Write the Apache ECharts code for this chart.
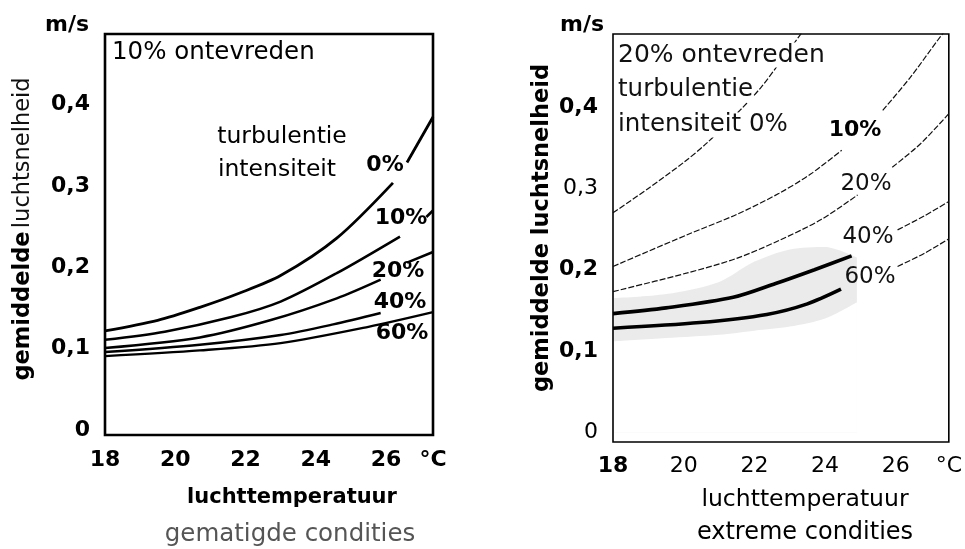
<!DOCTYPE html>
<html>
<head>
<meta charset="utf-8">
<script src="https://cdn.jsdelivr.net/npm/echarts@6/dist/echarts.min.js"></script>
<style>
html,body{margin:0;padding:0;background:#fff;}
#c{width:965px;height:549px;}
</style>
</head>
<body>
<div id="c"></div>
<script>
// ---------- data: left panel (gematigde condities, 10% ontevreden) ----------
const xTicks = [18, 20, 22, 24, 26];
const yTicks = [0, 0.1, 0.2, 0.3, 0.4];
const leftT0  = [18, 19.5, 20.7, 21.8, 23.0, 24.6, 26.2, 26.4, 26.6, 27.34];
const leftV0  = [0.122, 0.135, 0.151, 0.168, 0.190, 0.236, 0.304, null, 0.329, 0.385];
const leftT10 = [18, 19.7, 21.6, 23.0, 24.6, 26.4, 26.8, 27.15, 27.34];
const leftV10 = [0.111, 0.121, 0.139, 0.158, 0.193, 0.238, null, 0.262, 0.270];
const leftT20 = [18, 20.7, 22.7, 24.6, 25.85, 26.2, 26.6, 27.34];
const leftV20 = [0.101, 0.114, 0.135, 0.162, 0.185, null, 0.206, 0.219];
const leftT40 = [18, 20.7, 23.0, 24.5, 25.85];
const leftV40 = [0.096, 0.105, 0.117, 0.130, 0.144];
const leftT60 = [18, 20.7, 23.0, 25.5, 27.34];
const leftV60 = [0.091, 0.098, 0.107, 0.127, 0.145];

// ---------- data: right panel (extreme condities, 20% ontevreden) ----------
const rightT0  = [18, 19.0, 20.0, 20.66, 21.59, 22.2, 22.72, 23.35];
const rightV0  = [0.270, 0.300, 0.332, 0.356, 0.396, 0.425, 0.455, 0.492];
const rightT10 = [18, 20.1, 21.5, 22.7, 23.6, 24.47, 24.9, 25.63, 26.4, 27.18, 27.5];
const rightV10 = [0.204, 0.243, 0.268, 0.294, 0.318, 0.347, null, 0.396, 0.436, 0.482, 0.500];
const rightT20 = [18, 20.1, 21.5, 22.7, 23.9, 24.92, 25.4, 25.9, 26.7, 27.5];
const rightV20 = [0.173, 0.196, 0.214, 0.236, 0.262, 0.292, null, 0.326, 0.355, 0.392];
const rightT40solid = [18, 19.5, 21.4, 22.6, 23.7, 24.75];
const rightV40solid = [0.146, 0.153, 0.166, 0.183, 0.200, 0.217];
const rightT40dash  = [26.05, 26.8, 27.5];
const rightV40dash  = [0.249, 0.266, 0.284];
const rightT60solid = [18, 20.46, 22.35, 23.5, 24.45];
const rightV60solid = [0.128, 0.135, 0.145, 0.158, 0.176];
const rightT60dash  = [26.05, 26.8, 27.5];
const rightV60dash  = [0.204, 0.220, 0.238];
// stippled (grey) measurement cloud around the thick curves
const bandT    = [18.03, 19.5, 21, 22, 23, 24, 24.9];
const bandLow  = [0.112, 0.116, 0.120, 0.125, 0.130, 0.140, 0.160];
const bandHigh = [0.165, 0.170, 0.185, 0.210, 0.225, 0.228, 0.215];

const FONT = 'DejaVu Sans';
const pairs = (t, v) => t.map((x, i) => [x, v[i]]);

function yFmt(val) {
  if (val < -1e-9 || val > 0.4 + 1e-9) return '';
  const r = Math.round(val * 10);
  if (Math.abs(val * 10 - r) > 1e-6) return '';
  return r === 0 ? '0' : ('0,' + r);
}
function xFmtFactory(maxV) {
  return function (val) {
    if (Math.abs(val - maxV) < 0.02) return '°C';
    if (xTicks.indexOf(Math.round(val)) >= 0 && Math.abs(val - Math.round(val)) < 1e-6) return String(Math.round(val));
    return '';
  };
}

const leftMax = 27.34, rightMax = 27.5;

function solid(name, t, v, xi, w) {
  return { name, type: 'line', xAxisIndex: xi, yAxisIndex: xi, data: pairs(t, v),
    symbol: 'none', smooth: 0.3, connectNulls: false, z: 5,
    lineStyle: { color: '#000', width: w } };
}
function dashed(name, t, v) {
  return { name, type: 'line', xAxisIndex: 1, yAxisIndex: 1, data: pairs(t, v),
    symbol: 'none', smooth: 0.3, connectNulls: false, z: 4,
    lineStyle: { color: '#111', width: 1.2, type: [6, 2] } };
}
function txt(x, y, text, size, opts) {
  opts = opts || {};
  return { type: 'text', x: x, y: y, z: 50, rotation: opts.rotation || 0,
    style: Object.assign({ text: text, fontFamily: FONT, fontSize: size, fontWeight: opts.bold ? 'bold' : 'normal',
      fill: opts.fill || '#000', align: opts.align || 'center', verticalAlign: 'middle' }, opts.extra || {}) };
}

const chart = echarts.init(document.getElementById('c'));
const option = {
  backgroundColor: '#fff',
  animation: false,
  textStyle: { fontFamily: FONT },
  grid: [
    { left: 105, right: 965 - 433, top: 34, bottom: 549 - 435, show: true, borderColor: '#000', borderWidth: 2.6, containLabel: false },
    { left: 613, right: 965 - 949, top: 34, bottom: 549 - 442, show: true, borderColor: '#000', borderWidth: 1.6, containLabel: false }
  ],
  xAxis: [
    { type: 'value', gridIndex: 0, min: 18, max: leftMax, interval: 2,
      axisLine: { show: false }, axisTick: { show: false }, splitLine: { show: false },
      axisLabel: { showMinLabel: true, showMaxLabel: true, margin: 14, color: '#000', fontFamily: FONT,
        fontSize: 22, fontWeight: 'bold', formatter: xFmtFactory(leftMax) } },
    { type: 'value', gridIndex: 1, min: 18, max: rightMax, interval: 2,
      axisLine: { show: false }, axisTick: { show: false }, splitLine: { show: false },
      axisLabel: { showMinLabel: true, showMaxLabel: true, margin: 13, color: '#000', fontFamily: FONT,
        fontSize: 22,
        formatter: function (val) {
          const s = xFmtFactory(rightMax)(val);
          if (s === '18') return '{b|18}';
          return s;
        },
        rich: { b: { fontWeight: 'bold', fontSize: 22, fontFamily: FONT, color: '#000' } } } }
  ],
  yAxis: [
    { type: 'value', gridIndex: 0, min: -0.006, max: 0.487,
      axisLine: { show: false }, axisTick: { show: false }, splitLine: { show: false },
      axisLabel: { showMinLabel: true, showMaxLabel: true, margin: 15, color: '#000', fontFamily: FONT,
        fontSize: 22, fontWeight: 'bold', formatter: yFmt } },
    { type: 'value', gridIndex: 1, min: -0.012, max: 0.49,
      axisLine: { show: false }, axisTick: { show: false }, splitLine: { show: false },
      axisLabel: { showMinLabel: true, showMaxLabel: true, margin: 15, color: '#000', fontFamily: FONT,
        fontSize: 22,
        formatter: function (val) {
          const s = yFmt(val);
          if (s === '0,4' || s === '0,2' || s === '0,1') return '{b|' + s + '}';
          return s;
        },
        rich: { b: { fontWeight: 'bold', fontSize: 22, fontFamily: FONT, color: '#000' } } } }
  ],
  series: [
    solid('L0', leftT0, leftV0, 0, 2.8),
    solid('L10', leftT10, leftV10, 0, 2.6),
    solid('L20', leftT20, leftV20, 0, 2.5),
    solid('L40', leftT40, leftV40, 0, 2.4),
    solid('L60', leftT60, leftV60, 0, 2.4),
    { name: 'bandHigh', type: 'line', xAxisIndex: 1, yAxisIndex: 1, symbol: 'none', smooth: 0.3,
      data: pairs(bandT, bandHigh), lineStyle: { width: 0, opacity: 0 },
      areaStyle: { color: 'rgba(0,0,0,0.08)', opacity: 1 }, z: 1 },
    { name: 'bandLow', type: 'line', xAxisIndex: 1, yAxisIndex: 1, symbol: 'none', smooth: 0.3,
      data: pairs(bandT, bandLow), lineStyle: { width: 0, opacity: 0 },
      areaStyle: { color: '#ffffff', opacity: 1 }, z: 2 },
    dashed('R0', rightT0, rightV0),
    dashed('R10', rightT10, rightV10),
    dashed('R20', rightT20, rightV20),
    solid('R40', rightT40solid, rightV40solid, 1, 3.6),
    dashed('R40d', rightT40dash, rightV40dash),
    solid('R60', rightT60solid, rightV60solid, 1, 3.6),
    dashed('R60d', rightT60dash, rightV60dash)
  ],
  graphic: [
    // left panel texts
    txt(67, 25, 'm/s', 22, { bold: true }),
    { type: 'text', x: 23, y: 229, rotation: Math.PI / 2, z: 50, style: { text: '{b|gemiddelde} {n|luchtsnelheid}', align: 'center', verticalAlign: 'middle',
        rich: { b: { fontFamily: FONT, fontSize: 22.5, fontWeight: 'bold', fill: '#000' }, n: { fontFamily: FONT, fontSize: 22.5, fill: '#111' } } } },
    txt(112, 53, '10% ontevreden', 24.5, { align: 'left' }),
    txt(282, 137, 'turbulentie', 23.5),
    txt(277, 170, 'intensiteit', 23.5),
    txt(385, 165, '0%', 22, { bold: true }),
    txt(401, 218, '10%', 22, { bold: true }),
    txt(398, 271, '20%', 22, { bold: true }),
    txt(400, 302, '40%', 22, { bold: true }),
    txt(402, 333, '60%', 22, { bold: true }),
    txt(292, 498, 'luchttemperatuur', 21, { bold: true }),
    txt(290, 535, 'gematigde condities', 24.5, { fill: '#555' }),
    // right panel texts (white backing masks the 0% curve where it runs behind the text)
    txt(582, 25, 'm/s', 22, { bold: true }),
    txt(542, 228, 'gemiddelde luchtsnelheid', 22.5, { bold: true, rotation: Math.PI / 2 }),
    txt(618, 55, '20% ontevreden', 25, { align: 'left', fill: '#111', extra: { backgroundColor: '#fff', padding: [0, 2, 0, 0] } }),
    txt(618, 90, 'turbulentie', 24.5, { align: 'left', fill: '#111', extra: { backgroundColor: '#fff' } }),
    txt(618, 125, 'intensiteit 0%', 24.5, { align: 'left', fill: '#111', extra: { backgroundColor: '#fff', padding: [0, 3, 0, 0] } }),
    txt(855, 130, '10%', 22, { bold: true }),
    txt(866, 184, '20%', 23, { fill: '#111' }),
    txt(868, 237, '40%', 23, { fill: '#111' }),
    txt(870, 277, '60%', 23, { fill: '#111' }),
    txt(805, 500, 'luchttemperatuur', 23.5),
    txt(805, 533, 'extreme condities', 24)
  ]
};
chart.setOption(option);
</script>
</body>
</html>
